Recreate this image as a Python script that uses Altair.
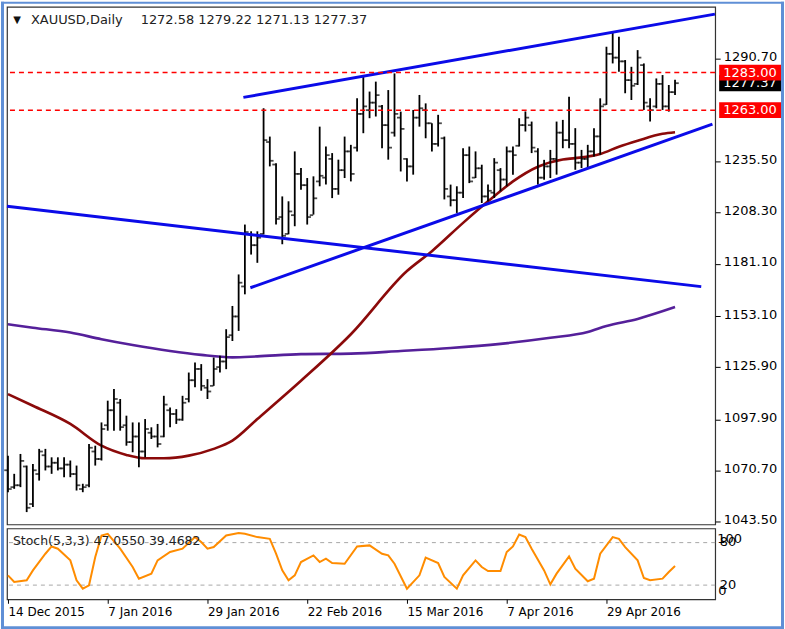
import altair as alt
import pandas as pd

# ---------------- data ----------------
bar_idx = list(range(108))
opens = [1071, 1062, 1063, 1073, 1053, 1069, 1079, 1073, 1075, 1072,
         1074, 1069, 1061, 1063, 1081, 1077, 1095, 1103, 1107, 1095,
         1086, 1089, 1081, 1091, 1089, 1089, 1103, 1101, 1098, 1109,
         1119, 1125, 1115, 1116, 1126, 1129, 1143, 1153, 1169, 1197,
         1191, 1197, 1246, 1234, 1206, 1197, 1207, 1229, 1223, 1207,
         1225, 1227, 1237, 1221, 1231, 1241, 1243, 1261, 1263, 1267,
         1265, 1255, 1251, 1259, 1237, 1233, 1259, 1263, 1256, 1245,
         1248, 1217, 1215, 1219, 1239, 1227, 1232, 1217, 1219, 1231,
         1226, 1241, 1244, 1255, 1255, 1241, 1227, 1233, 1237, 1251,
         1247, 1245, 1235, 1237, 1241, 1249, 1266, 1293, 1291, 1289,
         1279, 1277, 1287, 1265, 1265, 1277, 1265, 1272.58]
highs = [1078.8, 1069.1, 1079.7, 1073.5, 1074.4, 1082.4, 1082.4, 1077.9, 1077.9, 1077.9,
         1076.2, 1073.5, 1063.8, 1085.0, 1084.1, 1096.5, 1108.1, 1114.3, 1109.0, 1100.1,
         1096.5, 1096.5, 1098.3, 1093.9, 1095.7, 1110.7, 1104.5, 1103.6, 1110.7, 1123.1,
         1128.4, 1127.6, 1119.6, 1131.1, 1132.0, 1146.2, 1158.6, 1175.4, 1202.0, 1198.4,
         1198.4, 1264.0, 1248.9, 1234.7, 1217.0, 1214.4, 1241.0, 1232.1, 1226.8, 1227.7,
         1254.2, 1243.6, 1240.1, 1236.6, 1248.9, 1244.5, 1269.3, 1280.8, 1272.9, 1278.2,
         1265.8, 1273.7, 1282.6, 1262.2, 1237.4, 1263.1, 1271.1, 1266.6, 1256.0, 1260.5,
         1248.9, 1223.3, 1222.4, 1242.7, 1243.6, 1241.0, 1233.9, 1223.3, 1237.4, 1232.1,
         1243.6, 1243.6, 1258.7, 1262.3, 1256.9, 1242.7, 1236.5, 1241.8, 1256.9, 1257.8,
         1270.2, 1253.4, 1241.8, 1244.5, 1253.4, 1269.3, 1296.8, 1304.8, 1302.1, 1289.7,
         1286.1, 1295.0, 1287.9, 1269.3, 1279.9, 1281.7, 1276.4, 1279.22]
lows = [1059.3, 1061.1, 1062.0, 1048.7, 1051.4, 1065.5, 1070.9, 1069.1, 1070.9, 1067.3,
        1067.3, 1060.2, 1059.3, 1062.0, 1073.5, 1076.2, 1092.1, 1092.1, 1092.1, 1084.1,
        1080.6, 1072.6, 1077.9, 1087.7, 1083.2, 1088.6, 1093.9, 1095.7, 1097.4, 1107.2,
        1115.2, 1113.4, 1109.0, 1116.0, 1123.1, 1124.9, 1139.9, 1145.3, 1164.8, 1186.0,
        1181.6, 1196.7, 1233.0, 1202.0, 1191.5, 1196.8, 1201.1, 1220.6, 1202.0, 1207.3,
        1222.4, 1223.3, 1216.1, 1217.9, 1226.8, 1225.0, 1241.0, 1250.7, 1258.7, 1259.6,
        1242.7, 1236.6, 1248.9, 1230.3, 1225.0, 1228.6, 1254.2, 1248.0, 1241.0, 1243.6,
        1215.4, 1211.7, 1208.2, 1216.1, 1224.1, 1226.8, 1213.5, 1214.4, 1216.2, 1219.7,
        1222.4, 1228.6, 1243.6, 1251.6, 1240.1, 1223.3, 1225.9, 1226.8, 1228.6, 1242.7,
        1242.7, 1231.2, 1232.1, 1232.1, 1238.3, 1239.2, 1265.8, 1287.9, 1283.5, 1272.0,
        1268.4, 1276.4, 1263.1, 1256.9, 1264.0, 1263.1, 1262.2, 1271.13]
closes = [1061, 1063, 1076, 1051, 1071, 1081, 1073, 1075, 1072, 1074,
          1069, 1063, 1062, 1083, 1077, 1093, 1103, 1109, 1094, 1086,
          1089, 1081, 1093, 1089, 1085, 1106, 1101, 1098, 1107, 1119,
          1125, 1116, 1113, 1125, 1129, 1142, 1153, 1171, 1198, 1191,
          1195, 1247, 1236, 1205, 1196, 1209, 1229, 1223, 1206, 1216,
          1228, 1239, 1221, 1231, 1241, 1229, 1261, 1265, 1267, 1271,
          1255, 1243, 1261, 1253, 1233, 1259, 1264, 1256, 1245, 1256,
          1221, 1215, 1219, 1239, 1225, 1232, 1217, 1220, 1235, 1226,
          1241, 1239, 1255, 1259, 1243, 1227, 1233, 1237, 1251, 1247,
          1245, 1235, 1237, 1241, 1249, 1265, 1293, 1291, 1289, 1279,
          1276, 1291, 1267, 1263, 1277, 1265, 1272.6, 1277.37]

ma_red_idx = [0, 4, 10, 15, 19, 22, 25, 29, 33, 36, 40, 47, 55, 64, 68, 73, 77,
              81, 85, 89, 91, 95, 98, 101, 105, 107]
ma_red_val = [1111.6, 1105.4, 1095.7, 1084.1, 1079.2, 1077.4, 1077.4, 1078.8,
              1082.4, 1086.8, 1098.3, 1118.7, 1143.5, 1177.2, 1187.8, 1202.9,
              1214.4, 1225.0, 1232.8, 1236.7, 1237.4, 1239.6, 1243.5, 1246.7,
              1250.4, 1251.2]

ma_purple_idx = [0, 4, 10, 15, 20, 26, 31, 36, 40, 47, 55, 63, 71, 79, 87, 93,
                 96, 101, 107]
ma_purple_val = [1148.8, 1147.0, 1144.4, 1140.9, 1137.8, 1134.6, 1132.5, 1131.2,
                 1131.7, 1132.9, 1133.2, 1134.6, 1136.2, 1138.4, 1141.6, 1144.7,
                 1147.9, 1151.7, 1158.0]

stoch_idx = [0, 1, 3, 4, 6, 7, 8, 10, 11, 12, 13, 14, 15, 16, 18, 20, 21, 23, 24,
             26, 28, 30, 31, 32, 33, 35, 37, 38, 40, 42, 43, 44, 45, 46, 47, 49,
             50, 51, 52, 54, 56, 58, 60, 61, 62, 64, 66, 67, 69, 70, 72, 73, 75,
             76, 77, 79, 80, 81, 82, 83, 84, 86, 87, 88, 90, 91, 93, 94, 95, 97,
             98, 99, 101, 102, 103, 105, 106, 107]
stoch_val = [33.8, 24.4, 26.8, 40.8, 64.3, 74.6, 71.4, 54.9, 26.8, 15.0, 19.7,
             59.6, 90.1, 92.5, 71.4, 45.5, 29.1, 36.2, 54.9, 66.7, 71.4, 87.8,
             80.8, 71.4, 73.7, 90.1, 93.4, 92.5, 87.8, 85.4, 64.3, 40.8, 26.8,
             33.8, 52.6, 62.0, 52.6, 57.3, 51.2, 50.2, 74.6, 76.1, 64.3, 62.0,
             50.2, 15.0, 33.8, 58.7, 51.2, 31.5, 15.0, 33.8, 54.9, 45.5, 39.9,
             39.9, 66.7, 74.6, 91.5, 87.8, 71.4, 40.8, 21.1, 36.2, 60.6, 43.2,
             25.4, 29.1, 64.3, 87.8, 85.4, 73.7, 54.9, 30.0, 26.8, 29.1, 38.5,
             47.1]

trend_x1 = [37.76, 38.88, -0.16]
trend_y1 = [1269.8, 1168.3, 1211.7]
trend_x2 = [113.4, 113.0, 111.2]
trend_y2 = [1314.2, 1255.5, 1168.9]

level_prices = [1283.0, 1263.0]
level_labels = ["1283.00", "1263.00"]
last_price = [1277.37]
last_label = ["1277.37"]

price_ticks = [1043.5, 1070.7, 1097.9, 1125.9, 1153.1, 1181.1, 1208.3, 1235.5, 1290.7]
date_tick_idx = [0, 16, 32, 48, 64, 80, 96]
date_labels = ["14 Dec 2015", "7 Jan 2016", "29 Jan 2016", "22 Feb 2016",
               "15 Mar 2016", "7 Apr 2016", "29 Apr 2016"]
stoch_levels = [20, 80]
stoch_edge_labels = ["100", "0"]

symbol_text = "XAUUSD,Daily"
ohlc_text = "1272.58 1279.22 1271.13 1277.37"
stoch_text = "Stoch(5,3,3) 47.0550 39.4682"

# ---------------- tables ----------------
ohlc = pd.DataFrame({"i": bar_idx, "open": opens, "high": highs, "low": lows, "close": closes})
ma_red = pd.DataFrame({"i": ma_red_idx, "v": ma_red_val})
ma_purple = pd.DataFrame({"i": ma_purple_idx, "v": ma_purple_val})
stoch = pd.DataFrame({"i": stoch_idx, "v": stoch_val})
trends = pd.DataFrame({"x1": trend_x1, "y1": trend_y1, "x2": trend_x2, "y2": trend_y2})
levels = pd.DataFrame({"p": level_prices, "t": level_labels})
last_df = pd.DataFrame({"p": last_price, "t": last_label})
one = pd.DataFrame({"k": [0]})

FONT = "DejaVu Sans"
W = 710
H_MAIN = 519
H_SUB = 71
FRAME = "#5F8FD6"

xscale = alt.Scale(domain=[-0.16, 113.44], nice=False, zero=False)
yscale = alt.Scale(domain=[1042.1, 1318.1], nice=False, zero=False)
yaxis = alt.Axis(orient="right", values=price_ticks, format=".2f", title=None,
                 grid=False, domain=False, tickSize=5, tickColor="#000",
                 labelPadding=3, labelOffset=-2, labelFontSize=13, labelFont=FONT,
                 labelColor="#000", labelOverlap=False)

X = lambda f: alt.X(f, type="quantitative", scale=xscale, axis=None)
Y = lambda f: alt.Y(f, type="quantitative", scale=yscale, axis=yaxis)

hl = alt.Chart(ohlc).mark_rule(color="#000", strokeWidth=1.8).encode(
    x=X("i"), y=Y("low"), y2="high")
op = alt.Chart(ohlc).mark_tick(orient="horizontal", size=3.5, thickness=1.8,
                               xOffset=-2, color="#000").encode(x=X("i"), y=Y("open"))
cl = alt.Chart(ohlc).mark_tick(orient="horizontal", size=3.5, thickness=1.8,
                               xOffset=2, color="#000").encode(x=X("i"), y=Y("close"))

red_ma = alt.Chart(ma_red).mark_line(color="#8B0A0A", strokeWidth=2.6,
                                     interpolate="monotone").encode(x=X("i"), y=Y("v"))
pur_ma = alt.Chart(ma_purple).mark_line(color="#55209A", strokeWidth=2.6,
                                        interpolate="monotone").encode(x=X("i"), y=Y("v"))

trend = alt.Chart(trends).mark_rule(color="#0B0BE8", strokeWidth=3).encode(
    x=X("x1"), y=Y("y1"), x2="x2", y2="y2")

lvl = alt.Chart(levels).mark_rule(color="#FF0000", strokeWidth=1.5, strokeDash=[5, 4]).encode(
    y=Y("p"))

last_box = alt.Chart(last_df).mark_rect(color="#000", yOffset=-8, y2Offset=8).encode(
    x=alt.value(714), x2=alt.value(777), y=Y("p"), y2="p")
last_txt = alt.Chart(last_df).mark_text(align="left", baseline="middle", color="#fff",
                                        font=FONT, fontSize=13).encode(
    x=alt.value(718), y=Y("p"), text="t:N")
lvl_box = alt.Chart(levels).mark_rect(color="#FF0000", yOffset=-8, y2Offset=8).encode(
    x=alt.value(714), x2=alt.value(777), y=Y("p"), y2="p")
lvl_txt = alt.Chart(levels).mark_text(align="left", baseline="middle", color="#fff",
                                      font=FONT, fontSize=13).encode(
    x=alt.value(718), y=Y("p"), text="t:N")

tri = alt.Chart(one).mark_text(text="▼", fontSize=10, font=FONT, color="#111",
                               align="center", baseline="middle").encode(
    x=alt.value(10), y=alt.value(13))
sym = alt.Chart(one).mark_text(text=symbol_text, fontSize=13, font=FONT, color="#222",
                               align="left", baseline="middle").encode(
    x=alt.value(24), y=alt.value(13))
vals = alt.Chart(one).mark_text(text=ohlc_text, fontSize=13, font=FONT, color="#222",
                                align="left", baseline="middle").encode(
    x=alt.value(134), y=alt.value(13))

main = alt.layer(pur_ma, red_ma, hl, op, cl, trend, lvl, last_box, last_txt,
                 lvl_box, lvl_txt, tri, sym, vals).properties(width=W, height=H_MAIN)

# ---------------- stochastic panel ----------------
sscale = alt.Scale(domain=[0, 100], nice=False, zero=False)
saxis = alt.Axis(orient="right", values=stoch_levels, title=None, grid=False, domain=False,
                 ticks=False, labelPadding=4, labelFontSize=13, labelOffset=-1,
                 labelFont=FONT, labelColor="#000", labelOverlap=False)
label_expr = "[" + ",".join("'" + d + "'" for d in date_labels) + "][round(datum.value/16)]"
xaxis_sub = alt.Axis(orient="bottom", values=date_tick_idx, labelExpr=label_expr, title=None,
                     grid=False, domain=False, tickSize=4, tickColor="#000", labelAlign="left",
                     labelPadding=3, labelFontSize=12, labelFont=FONT, labelColor="#000",
                     labelOverlap=False, labelFlush=False)

# blue window frame as four filled bands, positioned relative to the lower panel (origin y=528)
def band(x1, x2, y1, y2):
    return alt.Chart(one).mark_rect(color=FRAME).encode(
        x=alt.value(x1), x2=alt.value(x2), y=alt.value(y1), y2=alt.value(y2))

frame = [band(-6, -3, -528, 101), band(776, 779, -528, 101),
         band(-6, 779, -528, -526), band(-6, 779, 98, 101)]

s_lvl = alt.Chart(pd.DataFrame({"v": stoch_levels})).mark_rule(
    color="#A8A8A8", strokeWidth=1, strokeDash=[4, 4]).encode(
    y=alt.Y("v:Q", scale=sscale, axis=saxis))
s_line = alt.Chart(stoch).mark_line(color="#FF8C00", strokeWidth=2).encode(
    x=alt.X("i:Q", scale=xscale, axis=xaxis_sub),
    y=alt.Y("v:Q", scale=sscale, axis=saxis))
s_txt = alt.Chart(one).mark_text(text=stoch_text, fontSize=12.5, font=FONT, color="#222",
                                 align="left", baseline="middle").encode(
    x=alt.value(6), y=alt.value(13))
s_top = alt.Chart(one).mark_text(text=stoch_edge_labels[0], fontSize=13, font=FONT, color="#000",
                                 align="left", baseline="middle").encode(
    x=alt.value(712), y=alt.value(11))
s_bot = alt.Chart(one).mark_text(text=stoch_edge_labels[1], fontSize=13, font=FONT, color="#000",
                                 align="left", baseline="middle").encode(
    x=alt.value(713), y=alt.value(63))

sub = alt.layer(s_lvl, s_line, s_txt, s_top, s_bot, *frame).properties(width=W, height=H_SUB)

chart = alt.vconcat(main, sub, spacing=4, bounds="flush").properties(
    padding={"left": 0, "top": 0, "right": 0, "bottom": 0},
    background="#ffffff"
).configure_view(stroke="#333", strokeWidth=1.2)

chart.save("out.html", embed_options={"renderer": "svg", "actions": False})
